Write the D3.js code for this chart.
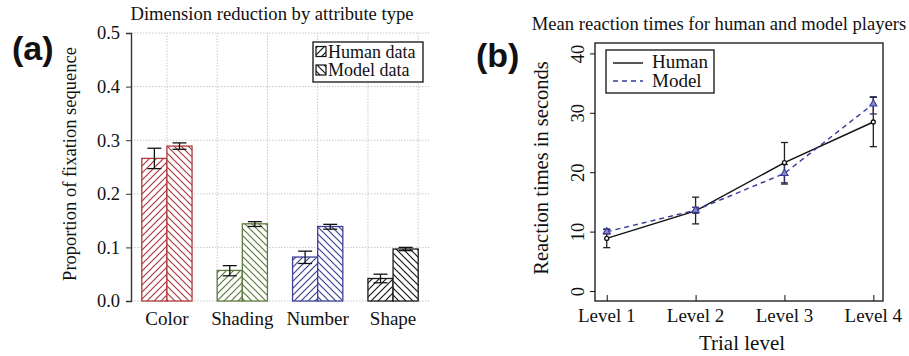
<!DOCTYPE html>
<html>
<head>
<meta charset="utf-8">
<script src="https://cdn.jsdelivr.net/npm/d3@7"></script>
<style>
  html,body{margin:0;padding:0;background:#fff;}
  svg{display:block;}
  text{font-family:"Liberation Serif","DejaVu Serif",serif;fill:#111;}
</style>
</head>
<body>
<svg id="chart" width="909" height="356"></svg>
<script>
// ---------- DATA ----------------------------------------------------------
// panel (a): proportion of fixation sequence by attribute type
const attrs      = ['Color', 'Shading', 'Number', 'Shape'];
const attrColors = ['#ad3a3f', '#5e7a3c', '#3d4197', '#1a1a1a'];
const humanProp  = [0.266, 0.057, 0.082, 0.042];
const humanLo    = [0.247, 0.047, 0.070, 0.034];
const humanHi    = [0.285, 0.066, 0.093, 0.050];
const modelProp  = [0.289, 0.144, 0.139, 0.097];
const modelLo    = [0.283, 0.139, 0.134, 0.094];
const modelHi    = [0.295, 0.148, 0.143, 0.100];
const propTicks  = [0, 0.1, 0.2, 0.3, 0.4, 0.5];

// panel (b): mean reaction times
const levels     = ['Level 1', 'Level 2', 'Level 3', 'Level 4'];
const humanRT    = [8.85, 13.5, 21.6, 28.45];
const humanRTLo  = [7.3, 11.3, 18.2, 24.3];
const humanRTHi  = [10.4, 15.8, 25.0, 32.6];
const modelRT    = [9.98, 13.6, 19.8, 31.5];
const modelRTLo  = [9.6, 13.1, 18.0, 29.8];
const modelRTHi  = [10.4, 14.1, 21.3, 32.7];
const rtTicks    = [0, 10, 20, 30, 40];

const svg = d3.select('#chart');
const defs = svg.append('defs');

// hatch patterns, one per colour and direction
function hatch(id, color, up){
  const s = 7;
  const p = defs.append('pattern').attr('id', id)
    .attr('patternUnits', 'userSpaceOnUse').attr('width', s).attr('height', s);
  p.append('rect').attr('width', s).attr('height', s).attr('fill', '#fff');
  const segs = up
    ? [[0, s, s, 0], [-s/2, s/2, s/2, -s/2], [s/2, s*1.5, s*1.5, s/2]]
    : [[0, 0, s, s], [-s/2, s/2, s/2, s*1.5], [s/2, -s/2, s*1.5, s/2]];
  segs.forEach(([x1, y1, x2, y2]) => p.append('line')
    .attr('x1', x1).attr('y1', y1).attr('x2', x2).attr('y2', y2)
    .attr('stroke', color).attr('stroke-width', 1.2));
}
attrColors.forEach((c, i) => { hatch('hu' + i, c, true); hatch('mo' + i, c, false); });
hatch('huK', '#111', true); hatch('moK', '#111', false);

// ---------- PANEL (a) -----------------------------------------------------
const xa = d3.scaleLinear().domain([-1.43, 10.47]).range([131, 430]);
const ya = d3.scaleLinear().domain([0, 0.5]).range([301, 33]);
const ga = svg.append('g');

// dotted grid
ga.append('g').selectAll('line').data(propTicks).join('line')
  .attr('x1', xa(-1.43)).attr('x2', xa(10.47))
  .attr('y1', d => ya(d)).attr('y2', d => ya(d))
  .attr('stroke', '#c8c8c8').attr('stroke-dasharray', '1.5,1.5');
ga.append('g').selectAll('line').data(d3.range(0, 11, 2)).join('line')
  .attr('x1', d => xa(d)).attr('x2', d => xa(d))
  .attr('y1', ya(0)).attr('y2', ya(0.5))
  .attr('stroke', '#c8c8c8').attr('stroke-dasharray', '1.5,1.5');

// bars
attrs.forEach((a, i) => {
  const c = 3 * i;
  ga.append('rect').attr('x', xa(c - 1)).attr('width', xa(c) - xa(c - 1))
    .attr('y', ya(humanProp[i])).attr('height', ya(0) - ya(humanProp[i]))
    .attr('fill', `url(#hu${i})`).attr('stroke', attrColors[i]).attr('stroke-width', 1.3);
  ga.append('rect').attr('x', xa(c)).attr('width', xa(c + 1) - xa(c))
    .attr('y', ya(modelProp[i])).attr('height', ya(0) - ya(modelProp[i]))
    .attr('fill', `url(#mo${i})`).attr('stroke', attrColors[i]).attr('stroke-width', 1.3);
  [[c - 0.5, humanLo[i], humanHi[i]], [c + 0.5, modelLo[i], modelHi[i]]].forEach(([u, lo, hi]) => {
    const eb = ga.append('g').attr('stroke', '#111').attr('stroke-width', 1.3);
    eb.append('line').attr('x1', xa(u)).attr('x2', xa(u)).attr('y1', ya(lo)).attr('y2', ya(hi));
    [lo, hi].forEach(v => eb.append('line')
      .attr('x1', xa(u) - 7).attr('x2', xa(u) + 7).attr('y1', ya(v)).attr('y2', ya(v)));
  });
});

// y axis
const yAxA = ga.append('g').attr('transform', `translate(${xa(-1.43)},0)`)
  .call(d3.axisLeft(ya).tickValues(propTicks).tickFormat(d3.format('.1f')).tickSize(5).tickPadding(6));
yAxA.select('.domain').attr('stroke', '#333').attr('stroke-width', 1.4);
yAxA.selectAll('.tick line').attr('stroke', '#333');
yAxA.selectAll('text').attr('font-size', 18.5).attr('fill', '#111');

// category labels
ga.selectAll('text.cat').data(attrs).join('text').attr('class', 'cat')
  .attr('x', (d, i) => xa(3 * i)).attr('y', 325)
  .attr('text-anchor', 'middle').attr('font-size', 19).text(d => d);

ga.append('text').attr('transform', 'translate(76,164) rotate(-90)')
  .attr('text-anchor', 'middle').attr('font-size', 18.5).text('Proportion of fixation sequence');
ga.append('text').attr('x', 272).attr('y', 20).attr('text-anchor', 'middle')
  .attr('font-size', 18.6).text('Dimension reduction by attribute type');
ga.append('text').attr('x', 12).attr('y', 60)
  .style('font-family', '"Liberation Sans", Arial, sans-serif')
  .attr('font-weight', 'bold').attr('font-size', 34).text('(a)');

// legend (a)
const lgA = ga.append('g');
lgA.append('rect').attr('x', 313).attr('y', 42).attr('width', 110).attr('height', 40)
  .attr('fill', '#fff').attr('stroke', '#111').attr('stroke-width', 1.3);
[['Human data', 'huK', 57.5], ['Model data', 'moK', 76]].forEach(([t, pat, yb]) => {
  lgA.append('rect').attr('x', 316).attr('y', yb - 11).attr('width', 10).attr('height', 10)
    .attr('fill', `url(#${pat})`).attr('stroke', '#111').attr('stroke-width', 1.2);
  lgA.append('text').attr('x', 328).attr('y', yb).attr('font-size', 18).text(t);
});

// ---------- PANEL (b) -----------------------------------------------------
const xb = d3.scaleLinear().domain([0.868, 4.109]).range([595, 883]);
const yb = d3.scaleLinear().domain([-1.68, 41.75]).range([301, 43]);
const gb = svg.append('g');
const lvIdx = levels.map((d, i) => i + 1);
const blue = '#35389a';

gb.append('rect').attr('x', 595).attr('y', 43).attr('width', 288).attr('height', 258)
  .attr('fill', 'none').attr('stroke', '#111').attr('stroke-width', 1.3);

const yAxB = gb.append('g').attr('transform', 'translate(595,0)')
  .call(d3.axisLeft(yb).tickValues(rtTicks).tickSize(5).tickPadding(0));
yAxB.select('.domain').remove();
yAxB.selectAll('.tick line').attr('stroke', '#111');
yAxB.selectAll('text').attr('font-size', 18.5)
  .attr('fill', '#111').attr('text-anchor', 'middle').attr('dy', null)
  .attr('transform', 'translate(-17,0) rotate(-90)').attr('x', 0).attr('y', 0)
  .attr('dominant-baseline', 'central');

const xAxB = gb.append('g').attr('transform', 'translate(0,301)')
  .call(d3.axisTop(xb).tickValues(lvIdx).tickSize(6).tickFormat(''));
xAxB.select('.domain').remove();
xAxB.selectAll('.tick line').attr('stroke', '#111');
gb.selectAll('text.lv').data(levels).join('text').attr('class', 'lv')
  .attr('x', (d, i) => xb(i + 1)).attr('y', 322).attr('text-anchor', 'middle')
  .attr('font-size', 19).text(d => d);

// error bars
function errBars(vals, lo, hi, color){
  vals.forEach((v, i) => {
    const x = xb(i + 1), e = gb.append('g').attr('stroke', color).attr('stroke-width', 1.3);
    e.append('line').attr('x1', x).attr('x2', x).attr('y1', yb(lo[i])).attr('y2', yb(hi[i]));
    [lo[i], hi[i]].forEach(w => e.append('line').attr('x1', x - 3.5).attr('x2', x + 3.5)
      .attr('y1', yb(w)).attr('y2', yb(w)));
  });
}
errBars(humanRT, humanRTLo, humanRTHi, '#222');
errBars(modelRT, modelRTLo, modelRTHi, '#2c2c5e');

const line = d3.line().x((d, i) => xb(i + 1)).y(d => yb(d));
gb.append('path').datum(humanRT).attr('d', line).attr('fill', 'none')
  .attr('stroke', '#111').attr('stroke-width', 1.4);
gb.append('path').datum(modelRT).attr('d', line).attr('fill', 'none')
  .attr('stroke', blue).attr('stroke-width', 1.4).attr('stroke-dasharray', '5,4');

gb.selectAll('circle.hp').data(humanRT).join('circle').attr('class', 'hp')
  .attr('cx', (d, i) => xb(i + 1)).attr('cy', d => yb(d)).attr('r', 2)
  .attr('fill', '#fff').attr('stroke', '#111').attr('stroke-width', 1.3);
gb.selectAll('path.mp').data(modelRT).join('path').attr('class', 'mp')
  .attr('transform', (d, i) => `translate(${xb(i + 1)},${yb(d)})`)
  .attr('d', d3.symbol(d3.symbolTriangle, 22)).attr('fill', '#8a8cc8')
  .attr('stroke', blue).attr('stroke-width', 1.1);

// legend (b)
const lgB = gb.append('g');
lgB.append('rect').attr('x', 606).attr('y', 50).attr('width', 108).attr('height', 43)
  .attr('fill', '#fff').attr('stroke', '#111').attr('stroke-width', 1.3);
lgB.append('line').attr('x1', 613).attr('x2', 643).attr('y1', 63).attr('y2', 63)
  .attr('stroke', '#111').attr('stroke-width', 1.4);
lgB.append('line').attr('x1', 613).attr('x2', 643).attr('y1', 81).attr('y2', 81)
  .attr('stroke', blue).attr('stroke-width', 1.4).attr('stroke-dasharray', '5,4');
lgB.append('text').attr('x', 652).attr('y', 68).attr('font-size', 19).text('Human');
lgB.append('text').attr('x', 652).attr('y', 87).attr('font-size', 19).text('Model');

gb.append('text').attr('transform', 'translate(548,168) rotate(-90)')
  .attr('text-anchor', 'middle').attr('font-size', 20.5).text('Reaction times in seconds');
gb.append('text').attr('x', 742).attr('y', 350).attr('text-anchor', 'middle')
  .attr('font-size', 21).text('Trial level');
gb.append('text').attr('x', 719).attr('y', 30).attr('text-anchor', 'middle')
  .attr('font-size', 18.6).text('Mean reaction times for human and model players');
gb.append('text').attr('x', 476).attr('y', 67)
  .style('font-family', '"Liberation Sans", Arial, sans-serif')
  .attr('font-weight', 'bold').attr('font-size', 34).text('(b)');
</script>
</body>
</html>
